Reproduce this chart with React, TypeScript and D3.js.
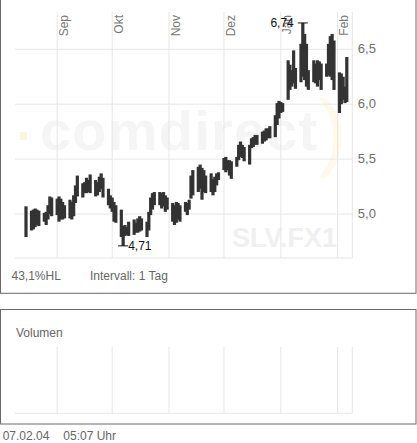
import React, { useEffect, useRef } from "react";
import * as d3 from "d3";

// daily high / low (weekdays)
const dates = [
  "2003-08-15",
  "2003-08-18", "2003-08-19", "2003-08-20", "2003-08-21", "2003-08-22",
  "2003-08-25", "2003-08-26", "2003-08-27", "2003-08-28", "2003-08-29",
  "2003-09-01", "2003-09-02", "2003-09-03", "2003-09-04", "2003-09-05",
  "2003-09-08", "2003-09-09", "2003-09-10", "2003-09-11", "2003-09-12",
  "2003-09-15", "2003-09-16", "2003-09-17", "2003-09-18", "2003-09-19",
  "2003-09-22", "2003-09-23", "2003-09-24", "2003-09-25", "2003-09-26",
  "2003-09-29", "2003-09-30", "2003-10-01", "2003-10-02", "2003-10-03",
  "2003-10-06", "2003-10-07", "2003-10-08", "2003-10-09", "2003-10-10",
  "2003-10-13", "2003-10-14", "2003-10-15", "2003-10-16", "2003-10-17",
  "2003-10-20", "2003-10-21", "2003-10-22", "2003-10-23", "2003-10-24",
  "2003-10-27", "2003-10-28", "2003-10-29", "2003-10-30", "2003-10-31",
  "2003-11-03", "2003-11-04", "2003-11-05", "2003-11-06", "2003-11-07",
  "2003-11-10", "2003-11-11", "2003-11-12", "2003-11-13", "2003-11-14",
  "2003-11-17", "2003-11-18", "2003-11-19", "2003-11-20", "2003-11-21",
  "2003-11-24", "2003-11-25", "2003-11-26", "2003-11-27", "2003-11-28",
  "2003-12-01", "2003-12-02", "2003-12-03", "2003-12-04", "2003-12-05",
  "2003-12-08", "2003-12-09", "2003-12-10", "2003-12-11", "2003-12-12",
  "2003-12-15", "2003-12-16", "2003-12-17", "2003-12-18", "2003-12-19",
  "2003-12-22", "2003-12-23", "2003-12-24", "2003-12-25", "2003-12-26",
  "2003-12-29", "2003-12-30", "2003-12-31", "2004-01-01", "2004-01-02",
  "2004-01-05", "2004-01-06", "2004-01-07", "2004-01-08", "2004-01-09",
  "2004-01-12", "2004-01-13", "2004-01-14", "2004-01-15", "2004-01-16",
  "2004-01-19", "2004-01-20", "2004-01-21", "2004-01-22", "2004-01-23",
  "2004-01-26", "2004-01-27", "2004-01-28", "2004-01-29", "2004-01-30",
  "2004-02-02", "2004-02-03", "2004-02-04", "2004-02-05", "2004-02-06",
];

const highs = [
  5.07,
  5.03, 5.04, 5.05, 5.04, 5.03,
  5.01, 5.02, 5.08, 5.16, 5.15,
  5.14, 5.16, 5.14, 5.11, 5.08,
  5.13, 5.11, 5.17, 5.26, 5.35,
  5.28, 5.29, 5.33, 5.31, 5.36,
  5.31, 5.29, 5.34, 5.37, 5.33,
  5.23, 5.17, 5.15, 5.11, 5.08,
  5.04, 4.89, 4.9, 4.88, 4.93,
  4.95, 4.92, 4.96, 4.98, 4.96,
  4.93, 5.02, 5.15, 5.19, 5.2,
  5.2, 5.19, 5.2, 5.17, 5.15,
  5.1, 5.08, 5.11, 5.1, 5.08,
  5.11, 5.1, 5.13, 5.35, 5.4,
  5.43, 5.45, 5.42, 5.4, 5.35,
  5.37, 5.32, 5.34, 5.37, 5.38,
  5.51, 5.52, 5.49, 5.49, 5.48,
  5.52, 5.63, 5.66, 5.63, 5.61,
  5.63, 5.69, 5.7, 5.72, 5.72,
  5.75, 5.76, 5.78, 5.78, 5.8,
  5.9, 6.01, 6.03, 6.02, 6.01,
  6.4, 6.36, 6.31, 6.49, 6.33,
  6.55, 6.74, 6.64, 6.55, 6.31,
  6.4, 6.37, 6.4, 6.39, 6.37,
  6.37, 6.55, 6.62, 6.64, 6.58,
  6.29, 6.28, 6.25, 6.16, 6.43,
];

const lows = [
  4.79,
  4.85, 4.86, 4.88, 4.9, 4.89,
  4.93, 4.9, 4.95, 5.0, 4.98,
  4.99, 4.93, 4.95, 4.95, 4.96,
  4.96, 4.95, 4.98, 5.1, 5.16,
  5.15, 5.19, 5.19, 5.2, 5.19,
  5.16, 5.17, 5.2, 5.23, 5.15,
  5.08, 5.05, 5.02, 4.93, 4.92,
  4.79, 4.71, 4.8, 4.81, 4.8,
  4.81, 4.83, 4.83, 4.84, 4.85,
  4.79, 4.85, 4.99, 5.04, 5.08,
  5.08, 5.05, 5.07, 5.02, 5.04,
  4.93, 4.9, 4.92, 4.95, 4.93,
  5.02, 4.99, 5.04, 5.14, 5.17,
  5.2, 5.23, 5.13, 5.2, 5.19,
  5.2, 5.17, 5.2, 5.26, 5.31,
  5.4, 5.38, 5.4, 5.35, 5.32,
  5.43, 5.49, 5.52, 5.51, 5.48,
  5.45, 5.6, 5.61, 5.63, 5.63,
  5.64, 5.66, 5.67, 5.69, 5.69,
  5.7, 5.81, 5.87, 5.92, 5.93,
  6.04, 6.13, 6.16, 6.19, 6.14,
  6.2, 6.25, 6.22, 6.16, 6.13,
  6.2, 6.19, 6.16, 6.22, 6.13,
  6.25, 6.26, 6.25, 6.22, 6.13,
  5.92, 6.0, 6.04, 6.01, 6.02,
];

const monthTicks = ["2003-09-01", "2003-10-01", "2003-11-01", "2003-12-01", "2004-01-01", "2004-02-01"];
const monthLabels = ["Sep", "Okt", "Nov", "Dez", "Jan", "Feb"];
const priceTicks = [5.0, 5.5, 6.0, 6.5];

const FONT = "'Liberation Sans', Arial, sans-serif";

const App: React.FC = () => {
  const chartRef = useRef<SVGSVGElement | null>(null);

  useEffect(() => {
    const root = d3.select(chartRef.current);
    root.selectAll("*").remove();

    const parse = d3.timeParse("%Y-%m-%d");
    const data = dates.map((d, i) => ({ date: parse(d) as Date, high: highs[i], low: lows[i] }));
    const de = d3.formatLocale({ decimal: ",", thousands: ".", grouping: [3], currency: ["", " €"] });
    const fmt1 = de.format(".1f");
    const fmt2 = de.format(".2f");

    const plotLeft = 15;
    const plotRight = 352.3;
    const plotTop = 12;
    const plotBottom = 258;

    const x = d3
      .scaleTime()
      .domain([new Date(2003, 7, 9), new Date(2004, 1, 9)])
      .range([plotLeft, plotRight]);
    const y = d3.scaleLinear().domain([5.0, 6.5]).range([214, 49.3]);
    const months = monthTicks.map((m) => parse(m) as Date);

    // panels
    root
      .append("rect")
      .attr("x", 0.5)
      .attr("y", -2)
      .attr("width", 415.5)
      .attr("height", 295.3)
      .attr("fill", "#fff")
      .attr("stroke", "#6a6a6a");
    root
      .append("rect")
      .attr("x", 0.5)
      .attr("y", 309.5)
      .attr("width", 415.5)
      .attr("height", 114.5)
      .attr("fill", "#fff")
      .attr("stroke", "#6a6a6a");

    // watermark
    const wm = root.append("g");
    wm.append("rect").attr("x", 20).attr("y", 132).attr("width", 7).attr("height", 8).attr("fill", "#fdf6df");
    wm.append("text")
      .attr("x", 40)
      .attr("y", 150)
      .attr("font-family", FONT)
      .attr("font-weight", "bold")
      .attr("font-size", 56)
      .attr("letter-spacing", 1.2)
      .attr("fill", "#f5f5f5")
      .text("comdirect");
    wm.append("text")
      .attr("x", 318)
      .attr("y", 160)
      .attr("font-family", FONT)
      .attr("font-size", 86)
      .attr("fill", "#fef9e8")
      .text(")");
    wm.append("text")
      .attr("x", 232)
      .attr("y", 247)
      .attr("font-family", FONT)
      .attr("font-weight", "bold")
      .attr("font-size", 27)
      .attr("fill", "#f0f0f0")
      .text("SLV.FX1");

    // grid
    const grid = root.append("g").attr("stroke", "#e6e6e6").attr("stroke-width", 1);
    grid
      .selectAll("line.h")
      .data(priceTicks)
      .enter()
      .append("line")
      .attr("x1", plotLeft)
      .attr("x2", plotRight)
      .attr("y1", (d) => y(d))
      .attr("y2", (d) => y(d));
    grid.append("line").attr("x1", plotLeft).attr("x2", plotRight).attr("y1", plotBottom).attr("y2", plotBottom);
    grid
      .selectAll("line.v")
      .data(months)
      .enter()
      .append("line")
      .attr("x1", (d) => x(d))
      .attr("x2", (d) => x(d))
      .attr("y1", plotTop)
      .attr("y2", plotBottom);
    grid.append("line").attr("x1", plotRight).attr("x2", plotRight).attr("y1", plotTop).attr("y2", plotBottom);

    // month labels
    root
      .append("g")
      .selectAll("text")
      .data(months)
      .enter()
      .append("text")
      .attr("transform", (d) => `translate(${x(d) + 10.6},15) rotate(-90)`)
      .attr("text-anchor", "end")
      .attr("font-family", FONT)
      .attr("font-size", 12)
      .attr("fill", "#777")
      .text((d, i) => monthLabels[i]);

    // price labels
    root
      .append("g")
      .selectAll("text")
      .data(priceTicks)
      .enter()
      .append("text")
      .attr("x", plotRight + 5.5)
      .attr("y", (d) => y(d) + 3.6)
      .attr("font-family", FONT)
      .attr("font-size", 13)
      .attr("fill", "#6e6e6e")
      .text((d) => fmt1(d));

    // high-low bars
    root
      .append("g")
      .selectAll("rect")
      .data(data)
      .enter()
      .append("rect")
      .attr("x", (d) => x(d.date) - 1.6)
      .attr("width", 3.2)
      .attr("y", (d) => y(d.high))
      .attr("height", (d) => y(d.low) - y(d.high))
      .attr("fill", "#333");

    // extremes
    const maxI = d3.maxIndex(data, (d) => d.high);
    const minI = d3.minIndex(data, (d) => d.low);
    const maxD = data[maxI];
    const minD = data[minI];
    const ext = root.append("g").attr("font-family", FONT).attr("font-size", 12).attr("fill", "#111");
    ext.append("line")
      .attr("x1", x(maxD.date) - 5)
      .attr("x2", x(maxD.date) + 5)
      .attr("y1", y(maxD.high))
      .attr("y2", y(maxD.high))
      .attr("stroke", "#111");
    ext.append("text")
      .attr("x", x(maxD.date) - 9)
      .attr("y", y(maxD.high) + 4)
      .attr("text-anchor", "end")
      .text(fmt2(maxD.high));
    ext.append("line")
      .attr("x1", x(minD.date) - 5)
      .attr("x2", x(minD.date) + 5)
      .attr("y1", y(minD.low))
      .attr("y2", y(minD.low))
      .attr("stroke", "#111");
    ext.append("text")
      .attr("x", x(minD.date) + 5)
      .attr("y", y(minD.low) + 4)
      .text(fmt2(minD.low));

    // bottom info of price panel
    const info = root.append("g").attr("font-family", FONT).attr("font-size", 12).attr("fill", "#666");
    info.append("text").attr("x", 11.5).attr("y", 280).text("43,1%HL");
    info.append("text").attr("x", 90).attr("y", 280).text("Intervall: 1 Tag");

    // volume panel
    info.append("text").attr("x", 16).attr("y", 337).text("Volumen");
    const vgrid = root.append("g").attr("stroke", "#e6e6e6").attr("stroke-width", 1);
    vgrid
      .selectAll("line.v")
      .data(months)
      .enter()
      .append("line")
      .attr("x1", (d) => x(d))
      .attr("x2", (d) => x(d))
      .attr("y1", 347)
      .attr("y2", 413.3);
    vgrid.append("line").attr("x1", plotRight).attr("x2", plotRight).attr("y1", 347).attr("y2", 413.3);
    vgrid.append("line").attr("x1", plotLeft).attr("x2", plotRight).attr("y1", 413.3).attr("y2", 413.3);

    // footer
    info.append("text").attr("x", 2.7).attr("y", 440).text("07.02.04");
    info.append("text").attr("x", 63.3).attr("y", 440).text("05:07 Uhr");
  }, []);

  return (
    <svg
      ref={chartRef}
      width={417}
      height={443}
      style={{ position: "absolute", left: 0, top: 0, background: "#fff" }}
    ></svg>
  );
};

export default App;
